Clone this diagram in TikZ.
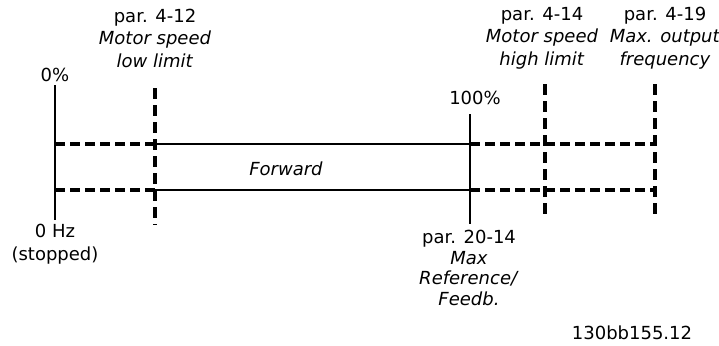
\documentclass[tikz,border=0pt]{standalone}
\usepackage{fontspec}
\setmainfont{DejaVu Sans}
\begin{document}
\begin{tikzpicture}[x=1pt,y=-1pt,
 lbl/.style={align=center, inner sep=0pt, font=\fontsize{18}{22.5}\selectfont},
 lblb/.style={align=center, inner sep=0pt, font=\fontsize{18}{20.5}\selectfont},
 solidln/.style={line width=1.4pt},
 dashln/.style={line width=3.2pt, dash pattern=on 10pt off 5pt},
 dashv/.style={line width=3.2pt, dash pattern=on 11pt off 6pt}]
\useasboundingbox (0,0) rectangle (719,345);
% coordinates
\coordinate (a1) at (55,85);
\coordinate (a2) at (55,220);
\coordinate (b1) at (155,88);
\coordinate (b2) at (155,225);
\coordinate (c1) at (470,114);
\coordinate (c2) at (470,224);
\coordinate (d1) at (545,84);
\coordinate (d2) at (545,220);
\coordinate (e1) at (655,84);
\coordinate (e2) at (655,220);
\coordinate (t0) at (55,144);
\coordinate (t1) at (155,144);
\coordinate (t2) at (470,144);
\coordinate (t3) at (655,144);
\coordinate (u0) at (55,190);
\coordinate (u1) at (155,190);
\coordinate (u2) at (470,190);
\coordinate (u3) at (655,190);
% lines
\draw[solidln] (a1) -- (a2);
\draw[solidln] (c1) -- (c2);
\draw[dashv] (b1) -- (b2);
\draw[dashv] (d1) -- (d2);
\draw[dashv] (e1) -- (e2);
\draw[dashln] (t0) -- (t1);
\draw[dashln] (u0) -- (u1);
\draw[solidln] (t1) -- (t2);
\draw[solidln] (u1) -- (u2);
\draw[dashln] (t2) -- (t3);
\draw[dashln] (u2) -- (u3);
% labels
\node[lbl] (p412) at (155,38) {par. 4-12\\\textit{Motor speed}\\\textit{low limit}};
\node[lbl] (zero) at (55,75) {0\%};
\node[lbl] (p414) at (542,38) {par. 4-14\\\textit{Motor speed}\\\textit{high limit}};
\node[lbl] (p419) at (665,38) {par. 4-19\\\textit{Max. output}\\\textit{frequency}};
\node[lbl] (hund) at (475,98) {100\%};
\node[lbl] (fwd) at (286,169) {\textit{Forward}};
\node[lbl] (zhz) at (55,244) {0 Hz\\(stopped)};
\node[lblb] (p2014) at (469,268) {par. 20-14\\\textit{Max}\\\textit{Reference/}\\\textit{Feedb.}};
\node[lbl] (code) at (632,333) {130bb155.12};
\end{tikzpicture}
\end{document}
